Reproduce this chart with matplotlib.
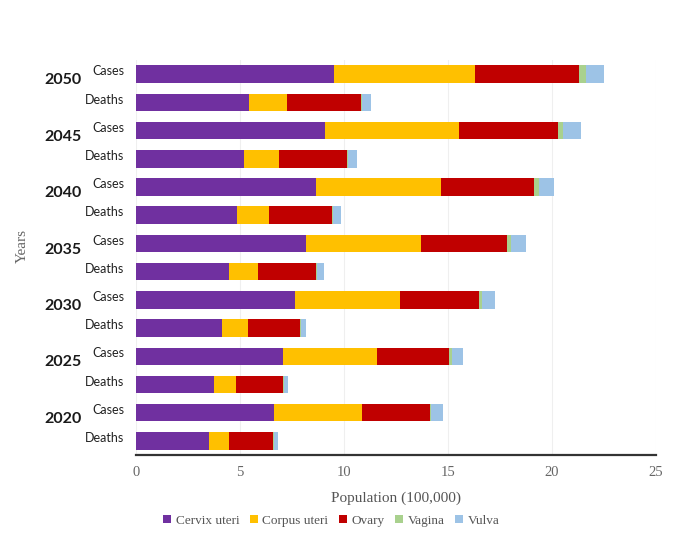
import numpy as np
import matplotlib
matplotlib.use("Agg")
import matplotlib.pyplot as plt

years = ["2020", "2025", "2030", "2035", "2040", "2045", "2050"]
kinds = ["Deaths", "Cases"]
sites = ["Cervix uteri", "Corpus uteri", "Ovary", "Vagina", "Vulva"]
colors = ["#7030A0", "#FFC000", "#C00000", "#A9D18E", "#9DC3E6"]

# values in 100,000s, per year: deaths then cases
cervix_deaths = [3.51, 3.78, 4.15, 4.50, 4.86, 5.19, 5.46]
cervix_cases = [6.65, 7.07, 7.64, 8.17, 8.65, 9.10, 9.53]
corpus_deaths = [0.99, 1.06, 1.22, 1.38, 1.53, 1.68, 1.83]
corpus_cases = [4.23, 4.52, 5.04, 5.53, 6.01, 6.43, 6.77]
ovary_deaths = [2.10, 2.23, 2.51, 2.77, 3.05, 3.27, 3.53]
ovary_cases = [3.24, 3.49, 3.81, 4.15, 4.49, 4.76, 5.03]
vagina_deaths = [0.05, 0.05, 0.05, 0.05, 0.05, 0.07, 0.06]
vagina_cases = [0.06, 0.10, 0.16, 0.18, 0.24, 0.25, 0.33]
vulva_deaths = [0.19, 0.22, 0.24, 0.34, 0.37, 0.42, 0.43]
vulva_cases = [0.60, 0.57, 0.63, 0.72, 0.72, 0.84, 0.86]

def interleave(d, c):
    out = []
    for a, b in zip(d, c):
        out += [a, b]
    return np.array(out)

series = [interleave(cervix_deaths, cervix_cases),
          interleave(corpus_deaths, corpus_cases),
          interleave(ovary_deaths, ovary_cases),
          interleave(vagina_deaths, vagina_cases),
          interleave(vulva_deaths, vulva_cases)]

serif = "Liberation Serif"
sans = "Lato"

fig = plt.figure(figsize=(6.86, 5.46), dpi=100)
ax = fig.add_axes([0.198, 0.1667, 0.758, 0.7233])

ypos = np.arange(len(years) * 2)
left = np.zeros(len(ypos))
for vals, name, col in zip(series, sites, colors):
    ax.barh(ypos, vals, left=left, height=0.62, color=col, label=name, zorder=3)
    left += vals

ax.set_xlim(0, 25)
ax.set_ylim(-0.5, 13.5)
ax.set_xticks([0, 5, 10, 15, 20, 25])
ax.grid(axis="x", color="#efefef", linewidth=0.8, zorder=0)
for s in ["top", "right", "left"]:
    ax.spines[s].set_visible(False)
ax.spines["bottom"].set_color("#333333")
ax.spines["bottom"].set_linewidth(1.6)
ax.tick_params(axis="x", length=0, labelsize=10.5, labelcolor="#666666", pad=8)
for lab in ax.get_xticklabels():
    lab.set_fontfamily(serif)
ax.set_yticks([])

for i, y in enumerate(ypos):
    ax.text(-0.55, y + 0.1, kinds[i % 2], ha="right", va="center",
            fontsize=9, family=sans, color="#222222")
for i, yr in enumerate(years):
    ax.text(-3.5, 2 * i + 0.78, yr, ha="center", va="center",
            fontsize=11.5, family=sans, fontweight="bold", color="#1a1a1a")

fig.text(0.033, 0.55, "Years", rotation=90, ha="center", va="center",
         fontsize=11, family=serif, color="#666666")
ax.set_xlabel("Population (100,000)", fontsize=11, family=serif,
              color="#555555", labelpad=9)

leg = fig.legend(loc="center", bbox_to_anchor=(0.483, 0.046), ncol=5,
                 frameon=False, prop={"family": serif, "size": 9.5},
                 handlelength=0.6, handleheight=0.6, handletextpad=0.35,
                 columnspacing=0.8)
for t in leg.get_texts():
    t.set_color("#555555")

fig.savefig("out.png", dpi=100)
